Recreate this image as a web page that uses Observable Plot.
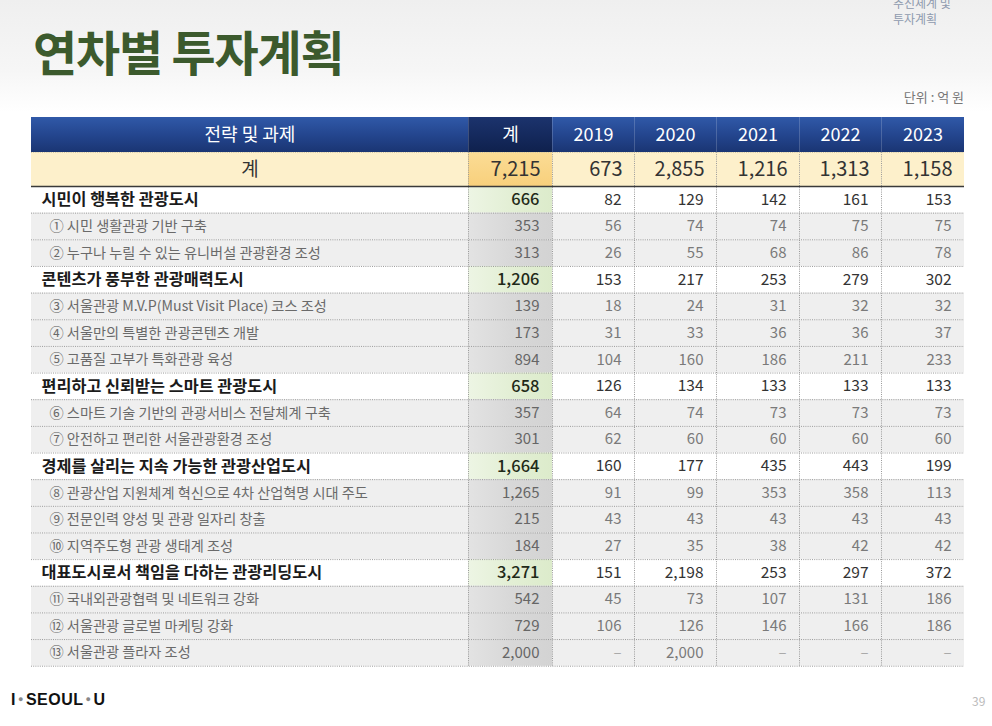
<!DOCTYPE html>
<html><head><meta charset="utf-8">
<script src="https://cdn.jsdelivr.net/npm/d3@7"></script>
<script src="https://cdn.jsdelivr.net/npm/@observablehq/plot@0.6"></script>
<style>
body{margin:0;background:#fff;}
#page{position:relative;width:992px;height:726px;overflow:hidden;background:linear-gradient(#efefef 0px,#f6f6f6 70px,#ffffff 112px);font-family:"Noto Sans CJK KR","Noto Sans",sans-serif;}
#title{position:absolute;left:33px;top:22px;font-size:48px;font-weight:700;color:#3c5a2d;letter-spacing:-1.2px;line-height:1.2;}
#section{position:absolute;left:893px;top:-5px;font-size:12px;color:#8e9aae;line-height:16px;}
#unit{position:absolute;right:28px;top:87px;font-size:13px;color:#777;}
#chart{position:absolute;left:0;top:117px;}
#logo{position:absolute;left:11px;top:691px;font-size:16px;font-weight:700;color:#111;font-family:"Liberation Sans",Arial,sans-serif;letter-spacing:0.5px;}
#logo .dot{color:#888;font-size:9px;vertical-align:3px;margin:0 2px;}
#pageno{position:absolute;left:972px;top:692px;font-size:12px;color:#bbb;}
</style></head>
<body>
<div id="page">
  <div id="section">추진체계 및<br>투자계획</div>
  <div id="title">연차별 투자계획</div>
  <div id="unit">단위 : 억 원</div>
  <div id="chart"></div>
  <div id="logo">I<span class="dot">●</span>SEOUL<span class="dot">●</span>U</div>
  <div id="pageno">39</div>
</div>
<script>
// ---------- data ----------
const years = ["2019", "2020", "2021", "2022", "2023"];
const headerLabels = ["전략 및 과제", "계", ...years];
const totalLabel = "계";
const grandTotal = 7215;
const yearTotals = [673, 2855, 1216, 1313, 1158];

const labels = [
  "시민이 행복한 관광도시",
  "① 시민 생활관광 기반 구축",
  "② 누구나 누릴 수 있는 유니버설 관광환경 조성",
  "콘텐츠가 풍부한 관광매력도시",
  "③ 서울관광 M.V.P(Must Visit Place) 코스 조성",
  "④ 서울만의 특별한 관광콘텐츠 개발",
  "⑤ 고품질 고부가 특화관광 육성",
  "편리하고 신뢰받는 스마트 관광도시",
  "⑥ 스마트 기술 기반의 관광서비스 전달체계 구축",
  "⑦ 안전하고 편리한 서울관광환경 조성",
  "경제를 살리는 지속 가능한 관광산업도시",
  "⑧ 관광산업 지원체계 혁신으로 4차 산업혁명 시대 주도",
  "⑨ 전문인력 양성 및 관광 일자리 창출",
  "⑩ 지역주도형 관광 생태계 조성",
  "대표도시로서 책임을 다하는 관광리딩도시",
  "⑪ 국내외관광협력 및 네트워크 강화",
  "⑫ 서울관광 글로벌 마케팅 강화",
  "⑬ 서울관광 플라자 조성"
];
const levels = ["group","item","item","group","item","item","item","group","item","item","group","item","item","item","group","item","item","item"];
const rowTotals = [666, 353, 313, 1206, 139, 173, 894, 658, 357, 301, 1664, 1265, 215, 184, 3271, 542, 729, 2000];
const v2019 = [82, 56, 26, 153, 18, 31, 104, 126, 64, 62, 160, 91, 43, 27, 151, 45, 106, null];
const v2020 = [129, 74, 55, 217, 24, 33, 160, 134, 74, 60, 177, 99, 43, 35, 2198, 73, 126, 2000];
const v2021 = [142, 74, 68, 253, 31, 36, 186, 133, 73, 60, 435, 353, 43, 38, 253, 107, 146, null];
const v2022 = [161, 75, 86, 279, 32, 36, 211, 133, 73, 60, 443, 358, 43, 42, 297, 131, 166, null];
const v2023 = [153, 75, 78, 302, 32, 37, 233, 133, 73, 60, 199, 113, 43, 42, 372, 186, 186, null];

// ---------- layout (not data) ----------
const colWidths = [437, 84, 82, 82, 83, 82, 83];
const rowHeight = {header: 35, total: 34, group: 26.65, item: 26.65};

const edges = Array.from(d3.cumsum([0, ...colWidths]));
const fmt = d3.format(",");

const rows = [
  {type: "header", cells: headerLabels},
  {type: "total", cells: [totalLabel, grandTotal, ...yearTotals]},
  ...labels.map((l, i) => ({type: levels[i], cells: [l, rowTotals[i], v2019[i], v2020[i], v2021[i], v2022[i], v2023[i]]}))
];
let acc = 0;
rows.forEach(r => { r.y0 = acc; acc += rowHeight[r.type]; r.y1 = acc; r.ym = (r.y0 + r.y1) / 2; });
const totalH = acc;

const cells = [];
rows.forEach((r, ri) => r.cells.forEach((v, c) => cells.push({
  ri, c, type: r.type, y0: r.y0, y1: r.y1, ym: r.ym,
  x0: edges[c], x1: edges[c + 1], xm: (edges[c] + edges[c + 1]) / 2,
  value: v,
  text: c === 0 ? v : (r.type === "header" ? v : (v == null ? "–" : fmt(v)))
})));

function fillFor(d) {
  if (d.type === "header") return d.c === 1 ? "url(#gNavy)" : "url(#gBlue)";
  if (d.type === "total") return d.c === 1 ? "url(#gGold)" : "#fdf0cb";
  if (d.type === "group") return d.c === 1 ? "url(#gGreen)" : "#ffffff";
  return d.c === 1 ? "url(#gGray)" : "#efefef";
}

const headerRow = rows[0], totalRow = rows[1];
const bodyRows = rows.slice(2);
const innerEdges = edges.slice(1, -1);
const dottedY = bodyRows.map(r => r.y1);

const plot = Plot.plot({
  width: 992,
  height: Math.ceil(totalH),
  marginLeft: 31,
  marginRight: 28,
  marginTop: 0,
  marginBottom: 0,
  x: {domain: [0, edges[edges.length - 1]], axis: null},
  y: {domain: [0, totalH], range: [0, totalH], axis: null},
  color: {type: "identity"},
  style: {background: "transparent", fontFamily: "'Noto Sans CJK KR', sans-serif", overflow: "visible"},
  marks: [
    Plot.rect(cells, {x1: "x0", x2: "x1", y1: "y0", y2: "y1", fill: fillFor}),
    // header separators
    Plot.ruleX(innerEdges, {x: d => d, y1: headerRow.y0, y2: headerRow.y1, stroke: "#ffffff", strokeOpacity: 0.18}),
    // body dotted separators
    Plot.ruleY(dottedY, {y: d => d, x1: 0, x2: edges[edges.length - 1], stroke: "#9a9a9a", strokeDasharray: "1,1.2", strokeWidth: 1}),
    Plot.ruleX(innerEdges, {x: d => d, y1: totalRow.y0, y2: totalH, stroke: "#9a9a9a", strokeDasharray: "1,1.2", strokeWidth: 1}),
    Plot.ruleY([totalRow.y0], {y: d => d, x1: 0, x2: edges[edges.length - 1], stroke: "#cfc6a8", strokeDasharray: "1,1.2"}),
    Plot.ruleY([totalRow.y1], {y: d => d, x1: 0, x2: edges[edges.length - 1], stroke: "#3a3a3a", strokeWidth: 1.3}),
    // header texts
    Plot.text(cells.filter(d => d.type === "header"), {x: "xm", y: "ym", text: "text", fill: "#ffffff", fontSize: 18, fontWeight: 400, textAnchor: "middle"}),
    // total row
    Plot.text(cells.filter(d => d.type === "total" && d.c === 0), {x: "xm", y: "ym", text: "text", fill: "#333", fontSize: 19, textAnchor: "middle"}),
    Plot.text(cells.filter(d => d.type === "total" && d.c > 0), {x: d => d.x1 - 12, y: "ym", text: "text", fill: "#333", fontSize: 20, textAnchor: "end"}),
    // group rows
    Plot.text(cells.filter(d => d.type === "group" && d.c === 0), {x: d => d.x0 + 10, y: "ym", text: "text", fill: "#1b1b1b", fontSize: 16.3, fontWeight: 700, textAnchor: "start"}),
    Plot.text(cells.filter(d => d.type === "group" && d.c === 1), {x: d => d.x1 - 13, y: "ym", text: "text", fill: "#1f2a18", fontSize: 16.5, fontWeight: 500, textAnchor: "end"}),
    Plot.text(cells.filter(d => d.type === "group" && d.c > 1), {x: d => d.x1 - 13, y: "ym", text: "text", fill: "#333", fontSize: 15.5, textAnchor: "end"}),
    // item rows
    Plot.text(cells.filter(d => d.type === "item" && d.c === 0), {x: d => d.x0 + 18, y: "ym", text: "text", fill: "#6a6a6a", fontSize: 14.2, textAnchor: "start"}),
    Plot.text(cells.filter(d => d.type === "item" && d.c > 0), {x: d => d.x1 - 13, y: "ym", text: "text", fill: d => d.value == null ? "#aaa" : (d.c === 1 ? "#666" : "#7a7a7a"), fontSize: 15, textAnchor: "end"})
  ]
});

// gradients
const svg = d3.select(plot);
const defs = svg.insert("defs", ":first-child");
function grad(id, stops, vertical = true) {
  const g = defs.append("linearGradient").attr("id", id)
    .attr("x1", 0).attr("y1", 0).attr("x2", vertical ? 0 : 1).attr("y2", vertical ? 1 : 0);
  stops.forEach(([o, c]) => g.append("stop").attr("offset", o).attr("stop-color", c));
}
grad("gBlue", [[0, "#3059a8"], [0.5, "#24468f"], [1, "#1a3573"]]);
grad("gNavy", [[0, "#1c336d"], [0.5, "#152a5e"], [1, "#0f214d"]]);
grad("gGold", [[0, "#fbdc95"], [1, "#f8d07c"]]);
grad("gGreen", [[0, "#edf5e4"], [0.5, "#e3efd5"], [1, "#dcebcb"]], false);
grad("gGray", [[0, "#e3e3e3"], [0.5, "#d8d8d8"], [1, "#d3d3d3"]], false);

document.getElementById("chart").appendChild(plot);
</script>
</body></html>
